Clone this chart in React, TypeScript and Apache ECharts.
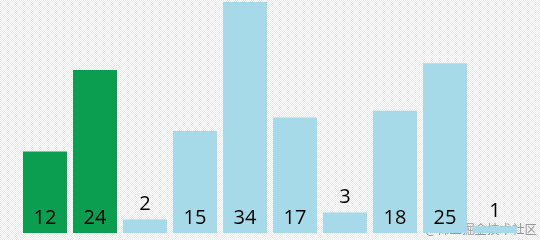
import React, { useEffect, useRef } from "react";
import * as echarts from "echarts";

const categories = ["a", "b", "c", "d", "e", "f", "g", "h", "i", "j"];
const values = [12, 24, 2, 15, 34, 17, 3, 18, 25, 1];
const highlighted = [true, true, false, false, false, false, false, false, false, false];
const watermark = "@稀土掘金技术社区";

export default function App() {
  const ref = useRef<HTMLDivElement>(null);
  useEffect(() => {
    if (!ref.current) return;
    const chart = echarts.init(ref.current, undefined, { renderer: "svg" });
    chart.setOption({
      animation: false,
      backgroundColor: "transparent",
      grid: { left: 20, right: 20, top: 2, bottom: 7 },
      xAxis: {
        type: "category",
        data: categories,
        show: false,
      },
      yAxis: { type: "value", min: 0, max: 34, show: false },
      series: [
        {
          type: "bar",
          barCategoryGap: "12%",
          data: values.map((v, i) => ({
            value: v,
            itemStyle: { color: highlighted[i] ? "#0c9e50" : "#a6dae8" },
            label: {
              position: v < 5 ? "top" : "insideBottom",
              distance: 7,
            },
          })),
          label: {
            show: true,
            color: "#000",
            fontSize: 20,
            fontFamily: "Open Sans",
          },
        },
      ],
      graphic: [
        {
          type: "text",
          right: 3,
          bottom: 5,
          style: {
            text: watermark,
            fill: "rgba(120,120,120,0.75)",
            fontSize: 12.5,
            fontFamily: "Noto Sans CJK SC",
          },
        },
      ],
    });
    return () => chart.dispose();
  }, []);
  return (
    <div
      ref={ref}
      style={{
        position: "fixed",
        left: 0,
        top: 0,
        width: 540,
        height: 240,
        background:
          "repeating-conic-gradient(#e8e8e8 0 25%, #ffffff 0 50%) 0 0 / 2px 2px",
      }}
    />
  );
}
